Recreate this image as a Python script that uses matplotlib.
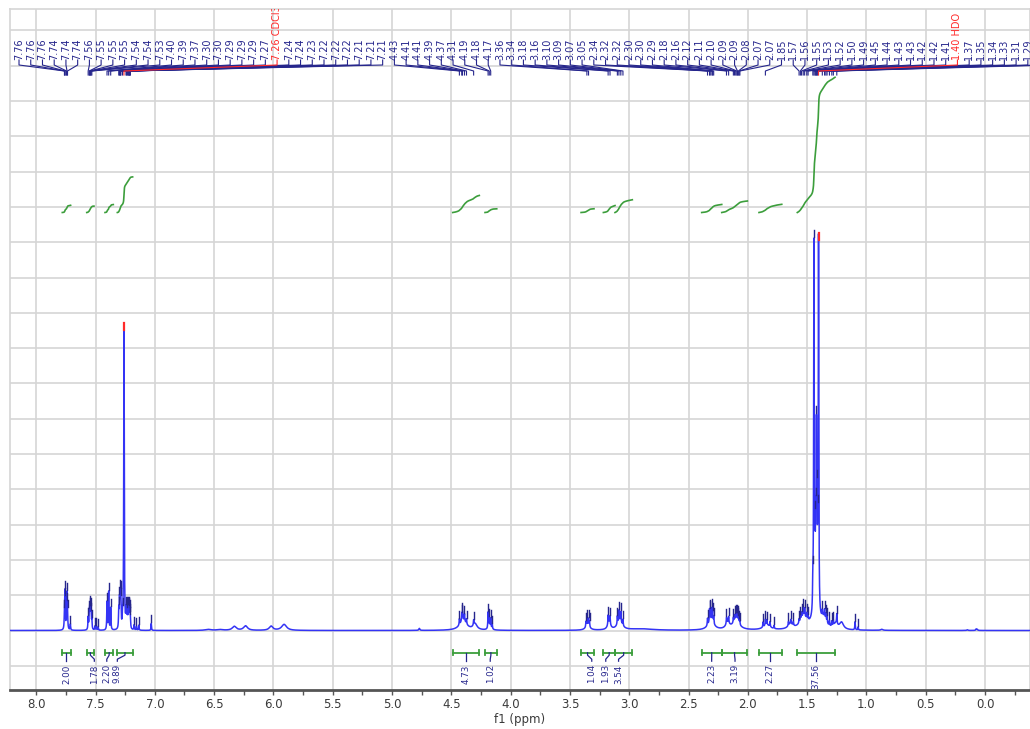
import numpy as np
import matplotlib
matplotlib.use("Agg")
import matplotlib.pyplot as plt
from matplotlib.ticker import MultipleLocator, FormatStrFormatter

# ---------------- data ----------------
# picked (labelled) lines: chemical shift (ppm) and intensity (a.u.)
peak_ppm = [7.762, 7.758, 7.756, 7.744, 7.740, 7.736,
            7.562, 7.553, 7.549, 7.546, 7.541, 7.537, 7.531,
            7.403, 7.389, 7.372,
            7.304, 7.298, 7.293, 7.289, 7.286, 7.272,
            7.260,
            7.243, 7.238, 7.231, 7.224, 7.220, 7.216, 7.213, 7.209, 7.206,
            4.432, 4.412, 4.406, 4.389, 4.372, 4.312,
            4.190, 4.180, 4.168,
            3.357, 3.343, 3.178, 3.162,
            3.100, 3.087, 3.071, 3.053,
            2.340, 2.323, 2.317, 2.303, 2.297, 2.288,
            2.180, 2.162, 2.122, 2.112, 2.102, 2.093, 2.087, 2.080, 2.073, 2.067,
            1.852,
            1.568, 1.557, 1.547, 1.533, 1.521, 1.503, 1.492,
            1.452, 1.443, 1.434, 1.428, 1.422, 1.417, 1.411, 1.404,
            1.372, 1.353, 1.342, 1.332, 1.312, 1.292, 1.279, 1.250]
peak_height = [12, 28, 14, 18, 30, 12,
               12, 14, 15, 12, 16, 12, 9,
               28, 38, 22,
               18, 24, 26, 22, 18, 10,
               305,
               14, 16, 14, 16, 13, 12, 10, 9, 8,
               6, 7, 8, 7, 5, 5,
               16, 9, 9,
               7, 7, 9, 8,
               8, 11, 10, 6,
               7, 12, 10, 12, 9, 7,
               6, 6, 5, 6, 6, 6, 6, 5, 4, 3,
               6,
               4, 5, 6, 8, 8, 6, 4,
               25, 368, 60, 70, 160, 80, 50, 372,
               6, 8, 7, 6, 5, 5, 5, 10]

# solvent assignments shown in red
solvent_ppm = [7.260, 1.404]
solvent_name = ["CDCl3", "HDO"]

# picked lines without a shift label
minor_ppm = [7.712, 7.505, 7.492, 7.478, 7.175, 7.155, 7.135, 7.030,
             4.155, 3.365, 3.335, 1.872, 1.840, 1.813, 1.779,
             1.658, 1.638, 1.616, 1.096, 1.070]
minor_height = [6, 4, 4, 3, 5, 4, 5, 7,
                5, 5, 5, 5, 5, 5, 3,
                4, 4, 4, 8, 3]

# broad components: centre (ppm), intensity, half width (ppm)
broad_ppm = [6.55, 6.45, 6.33, 6.235, 6.02, 5.91, 4.77,
             4.40, 4.30, 4.175, 3.35, 3.17, 3.08, 2.90,
             2.31, 2.17, 2.10, 1.84, 1.64, 1.53, 1.43,
             1.36, 1.26, 1.21, 0.871, 0.15, 0.075, 0.065]
broad_height = [1.0, 0.8, 4.0, 4.5, 4.2, 6.0, 2.0,
                10, 6, 3, 5, 7, 9, 1.5,
                9, 6, 9, 5, 5, 12, 10,
                9, 5, 7, 1.0, 0.7, 1.5, 1.0]
broad_width = [0.03, 0.03, 0.02, 0.02, 0.018, 0.025, 0.005,
               0.035, 0.02, 0.015, 0.02, 0.015, 0.025, 0.12,
               0.03, 0.02, 0.035, 0.035, 0.025, 0.035, 0.04,
               0.025, 0.02, 0.02, 0.01, 0.005, 0.004, 0.004]

# integration regions
int_start = [7.78, 7.574, 7.42, 7.316, 4.488, 4.216, 3.406, 3.218, 3.12,
             2.389, 2.22, 1.906, 1.583]
int_end = [7.71, 7.513, 7.35, 7.187, 4.264, 4.117, 3.297, 3.12, 2.974,
           2.22, 2.004, 1.714, 1.265]
int_value = [2.00, 1.78, 2.20, 9.89, 4.73, 1.02, 1.04, 1.93, 3.54,
             2.23, 3.19, 2.27, 37.56]
int_label_ppm = [7.745, 7.51, 7.405, 7.316, 4.376, 4.172, 3.316, 3.198, 3.09,
                 2.305, 2.108, 1.81, 1.424]

# ---------------- styling ----------------
BLUE = "#3434f5"
NAVY = "#26268c"
RED = "#ff2a2a"
GREEN = "#3c9e3c"
GRID = "#d5d5d5"
LINE_HW = 0.0025          # half width of the sharp lines (ppm)
GRID_STEP = 35.3          # intensity per horizontal grid division
INT_BASE = 418.0          # level where the integral curves start
INT_SCALE = 3.6           # curve rise per integral unit
BAR_Y = -22.2             # level of the integration bars

fig = plt.figure(figsize=(10.30, 7.29), dpi=100)
ax = fig.add_axes([10 / 1030, 39 / 729, 1020 / 1030, 681 / 729])
ax.set_xlim(8.221, -0.379)
ax.set_ylim(-59.5, 621.5)

# ---------------- spectrum ----------------
ppm = np.linspace(8.4, -0.5, 60000)
spec = np.zeros_like(ppm)
for p, h in zip(peak_ppm + minor_ppm, peak_height + minor_height):
    spec += h * LINE_HW ** 2 / ((ppm - p) ** 2 + LINE_HW ** 2)
for p, h, w in zip(broad_ppm, broad_height, broad_width):
    spec += h * w ** 2 / ((ppm - p) ** 2 + w ** 2)

ax.plot(ppm, spec, color=BLUE, lw=1.1, zorder=3)


def level(p):
    return float(np.interp(p, ppm[::-1], spec[::-1]))


# peak-pick markers above each line
for p in peak_ppm + minor_ppm:
    top = level(p)
    if p in solvent_ppm:
        ax.plot([p, p], [top - 6, top + 1], color=RED, lw=1.6, zorder=5)
    else:
        ax.plot([p, p], [top + 1, top + 8], color=NAVY, lw=1.0, zorder=4)

# ---------------- shift labels along the top ----------------
row_start = (985 - 19) / 118.6
row_step = 11.73 / 118.6
y_text, y_bend, y_join, y_end = 570.5, 565.5, 559.5, 555.5
for i, p in enumerate(peak_ppm):
    lx = row_start - i * row_step
    txt = f"{p:.2f}"
    col = NAVY
    if p in solvent_ppm:
        txt += " " + solvent_name[solvent_ppm.index(p)]
        col = RED
    ax.text(lx, y_text, txt, rotation=90, ha="center", va="bottom",
            fontsize=7, color=col, clip_on=True, zorder=6)
    ax.plot([lx, lx, p, p], [y_text, y_bend, y_join, y_end],
            color=col, lw=0.8, zorder=5 if col == RED else 4)

# ---------------- integral curves ----------------
for s, e, v in zip(int_start, int_end, int_value):
    m = (ppm <= s) & (ppm >= e)
    xs, ys = ppm[m], spec[m]
    cum = np.concatenate([[0.0], np.cumsum(0.5 * (ys[1:] + ys[:-1]) * np.abs(np.diff(xs)))])
    cum = cum / cum[-1] * v * INT_SCALE
    ax.plot(xs, INT_BASE + cum, color=GREEN, lw=1.2, zorder=3)

# ---------------- integration bars ----------------
for s, e, v, lp in zip(int_start, int_end, int_value, int_label_ppm):
    ax.plot([s, e], [BAR_Y, BAR_Y], color=GREEN, lw=1.3, zorder=3)
    for b in (s, e):
        ax.plot([b, b], [BAR_Y - 2.5, BAR_Y + 2.5], color=GREEN, lw=1.3, zorder=3)
    c = 0.5 * (s + e)
    ax.plot([c, c, lp, lp], [BAR_Y, BAR_Y - 2.5, BAR_Y - 6.5, BAR_Y - 8.5],
            color=NAVY, lw=0.9, zorder=4)
    ax.text(lp, BAR_Y - 11.5, f"{v:.2f}", rotation=90, ha="center", va="top",
            fontsize=6.3, color=NAVY, zorder=4)

# ---------------- axes ----------------
ax.xaxis.set_major_locator(MultipleLocator(0.5))
ax.xaxis.set_minor_locator(MultipleLocator(0.25))
ax.xaxis.set_major_formatter(FormatStrFormatter("%.1f"))
ax.yaxis.set_major_locator(MultipleLocator(GRID_STEP))
ax.grid(True, which="major", color=GRID, lw=1.2, zorder=0)
ax.set_axisbelow(True)
ax.tick_params(axis="y", left=False, labelleft=False)
ax.tick_params(axis="x", which="both", direction="out", length=3.5, width=1,
               color="#555555", labelsize=8.5, labelcolor="#3a3a3a", pad=2.5)
ax.set_xlabel("f1 (ppm)", fontsize=8.5, color="#3a3a3a", labelpad=1)
for side in ("top", "left", "right"):
    ax.spines[side].set_color(GRID)
    ax.spines[side].set_linewidth(1.2)
ax.spines["bottom"].set_color("#555555")
ax.spines["bottom"].set_linewidth(2)

fig.savefig("out.png", dpi=100)
